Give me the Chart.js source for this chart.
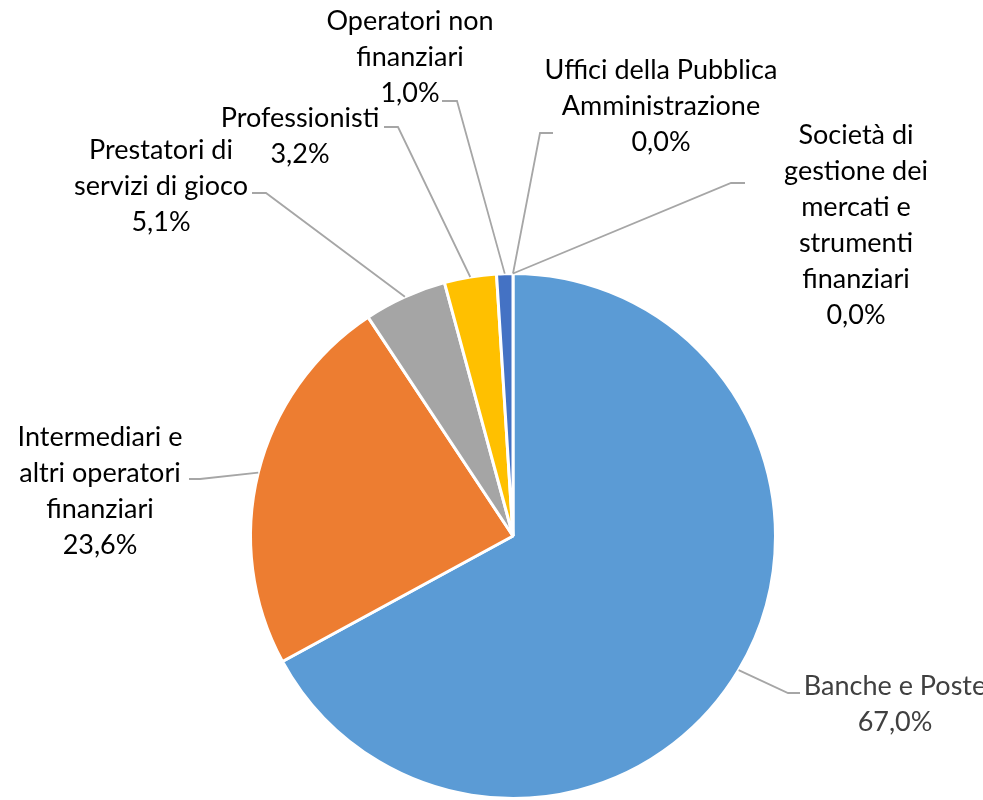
<!DOCTYPE html>
<html>
<head>
<meta charset="utf-8">
<script src="https://cdn.jsdelivr.net/npm/chart.js@4.4.0/dist/chart.umd.min.js"></script>
<style>
  html, body { margin: 0; padding: 0; background: #fff; }
  #wrap { width: 983px; height: 800px; }
</style>
</head>
<body>
<div id="wrap"><canvas id="pieChart" width="983" height="800"></canvas></div>
<script>
// Dati del grafico
const categorie = [
  ['Banche e Poste'],
  ['Intermediari e', 'altri operatori', 'finanziari'],
  ['Prestatori di', 'servizi di gioco'],
  ['Professionisti'],
  ['Operatori non', 'finanziari'],
  ['Uffici della Pubblica', 'Amministrazione'],
  ['Società di', 'gestione dei', 'mercati e', 'strumenti', 'finanziari']
];
const valori = [67.0, 23.6, 5.1, 3.2, 1.0, 0.0, 0.0];
const colori = ['#5B9BD5', '#ED7D31', '#A5A5A5', '#FFC000', '#4472C4', '#70AD47', '#264478'];

// Posizione delle etichette: centro del testo (x), prima riga (y), gomito della linea guida
const posEtichette = [
  { x: 895, y: 686, elbow: [788, 693], end: [800, 693], color: '#404040' },
  { x: 100, y: 437, elbow: [200, 479], end: [189, 479] },
  { x: 161, y: 150, elbow: [266, 193], end: [252, 193] },
  { x: 300, y: 118, elbow: [398, 127], end: [384, 127] },
  { x: 410, y: 21,  elbow: [457, 101], end: [442, 101] },
  { x: 661, y: 70,  elbow: [540, 133], end: [553, 133] },
  { x: 856, y: 135, elbow: [731, 183], end: [745, 183] }
];

function formatta(v) {
  return v.toFixed(1).replace('.', ',') + '%';
}

// Plugin per le etichette con linee guida
const etichettePlugin = {
  id: 'etichette',
  afterDraw(chart) {
    const ctx = chart.ctx;
    const arcs = chart.getDatasetMeta(0).data;
    ctx.save();
    arcs.forEach(function(arc, i) {
      const p = posEtichette[i];
      const mid = (arc.startAngle + arc.endAngle) / 2;
      const sx = arc.x + Math.cos(mid) * arc.outerRadius;
      const sy = arc.y + Math.sin(mid) * arc.outerRadius;
      ctx.strokeStyle = '#A6A6A6';
      ctx.lineWidth = 1.8;
      ctx.beginPath();
      ctx.moveTo(sx, sy);
      ctx.lineTo(p.elbow[0], p.elbow[1]);
      ctx.lineTo(p.end[0], p.end[1]);
      ctx.stroke();

      ctx.fillStyle = p.color || '#000000';
      ctx.font = '27px Lato';
      ctx.textAlign = 'center';
      ctx.textBaseline = 'middle';
      const righe = categorie[i].concat([formatta(valori[i])]);
      righe.forEach(function(r, k) {
        ctx.fillText(r, p.x, p.y + k * 36);
      });
    });
    ctx.restore();
  }
};

function creaGrafico() {
  const ctx = document.getElementById('pieChart').getContext('2d');
  new Chart(ctx, {
    type: 'pie',
    data: {
      labels: categorie.map(function(c) { return c.join(' '); }),
      datasets: [{
        data: valori,
        backgroundColor: colori,
        borderColor: '#FFFFFF',
        borderWidth: 3,
        hoverOffset: 0
      }]
    },
    options: {
      responsive: false,
      animation: false,
      layout: { padding: { top: 272, bottom: 0, left: 248, right: 205 } },
      plugins: {
        legend: { display: false },
        tooltip: { enabled: false }
      }
    },
    plugins: [etichettePlugin]
  });
}

window.onload = creaGrafico;
</script>
</body>
</html>
